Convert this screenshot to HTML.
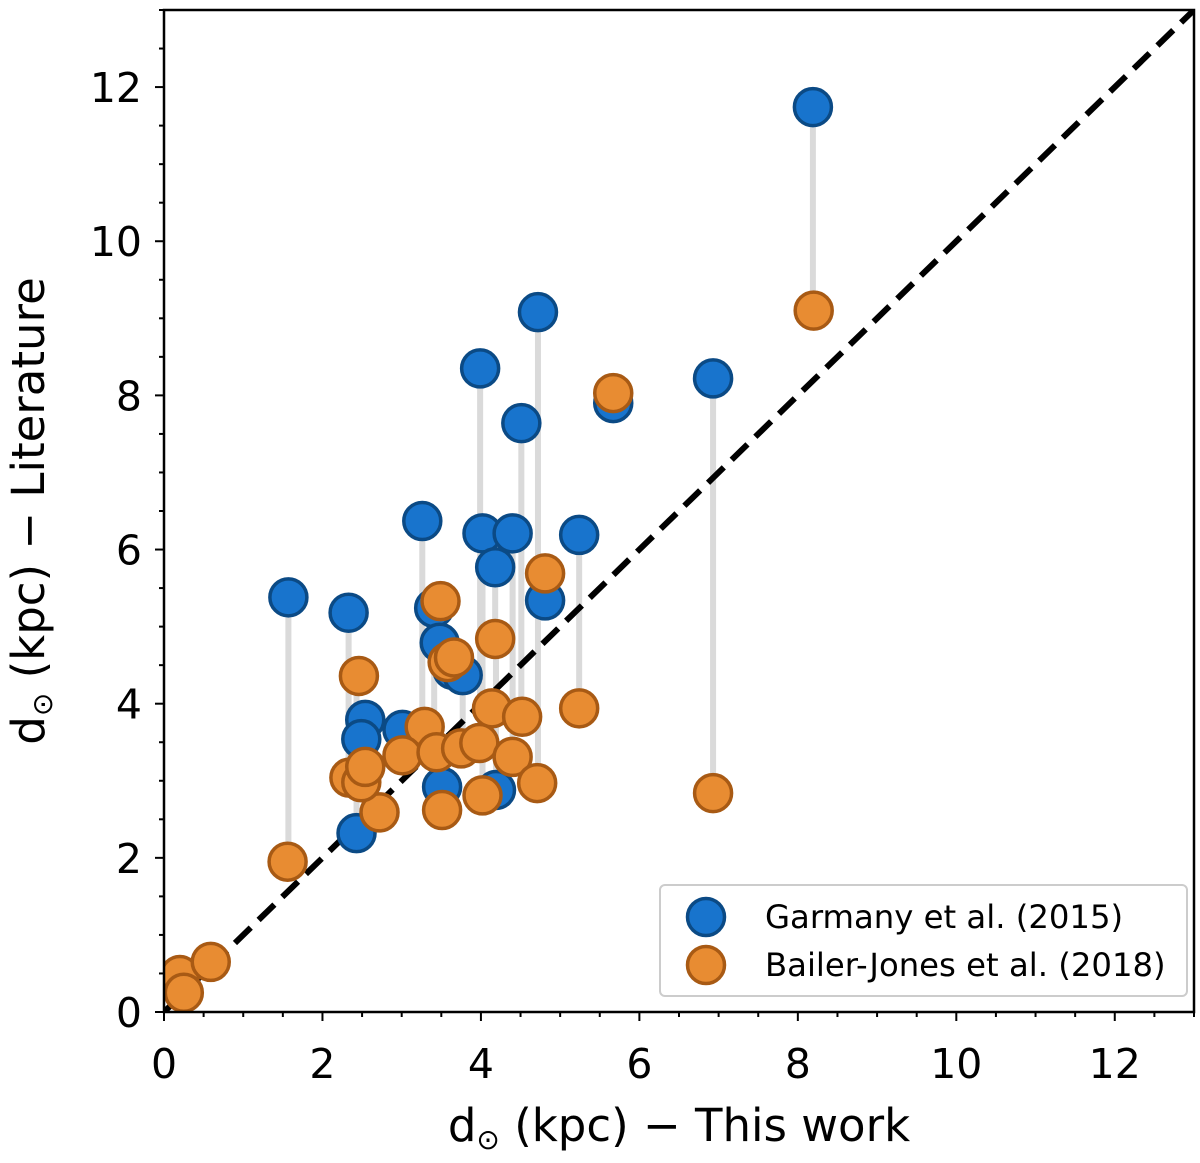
<!DOCTYPE html>
<html><head><meta charset="utf-8"><style>
body{margin:0;background:#fff;position:relative}
svg text{font-family:"DejaVu Sans","Liberation Sans",sans-serif;fill:#000}
</style></head><body>
<svg id="chart" width="1200" height="1158" viewBox="0 0 1200 1158" xmlns="http://www.w3.org/2000/svg"></svg>
<script>
const garmanyX=[1.57,2.33,3.26,3.99,4.72,4.51,5.67,6.93,8.19,4.02,4.40,4.18,5.24,4.81,3.41,3.48,3.64,3.77,2.54,2.49,3.01,2.43,3.51,4.19];
const garmanyY=[5.38,5.18,6.37,8.35,9.08,7.64,7.90,8.22,11.74,6.21,6.21,5.77,6.19,5.34,5.24,4.79,4.44,4.37,3.79,3.54,3.66,2.32,2.92,2.88];
const bailerX=[1.56,2.46,3.49,3.58,3.66,4.81,4.18,5.24,4.14,4.52,3.29,3.01,3.44,3.75,3.98,4.40,4.71,4.02,3.51,2.72,2.34,2.49,2.54,8.20,5.67,6.93,0.20,0.25,0.59];
const bailerY=[1.95,4.36,5.33,4.54,4.60,5.69,4.84,3.94,3.94,3.83,3.70,3.33,3.37,3.42,3.49,3.31,2.97,2.81,2.62,2.59,3.04,2.98,3.18,9.10,8.03,2.84,0.48,0.25,0.65];
const majorTicks=[0,2,4,6,8,10,12];
const tickLabels=["0","2","4","6","8","10","12"];

const L=164,T=10,R=1194,B=1012,MAXV=13;
const sx=v=>L+v*(R-L)/MAXV, sy=v=>B-v*(B-T)/MAXV;
const svg=document.getElementById('chart');
const NS="http://www.w3.org/2000/svg";
function mk(tag,attrs,parent){const e=document.createElementNS(NS,tag);for(const k in attrs)e.setAttribute(k,attrs[k]);(parent||svg).appendChild(e);return e;}

const defs=mk('defs',{});
const cp=mk('clipPath',{id:'clip'},defs);
mk('rect',{x:L,y:T,width:R-L,height:B-T},cp);
const plot=mk('g',{'clip-path':'url(#clip)'});



garmanyX.forEach((gx,i)=>{
  let best=-1,bd=0.2;
  bailerX.forEach((bx,j)=>{const d=Math.abs(bx-gx);if(d<bd){bd=d;best=j;}});
  if(best>=0){
    const ln=mk('line',{x1:sx(gx),x2:sx(gx),y1:sy(garmanyY[i]),y2:sy(bailerY[best]),stroke:'#dadada','stroke-width':6},plot);
    
    
  }
});
const diag=mk('line',{x1:sx(0),y1:sy(0),x2:sx(13),y2:sy(13),stroke:'#000','stroke-width':6,'stroke-dasharray':'22,11'},plot);



garmanyX.forEach((x,i)=>{
  const c=mk('circle',{cx:sx(x),cy:sy(garmanyY[i]),r:18.5,fill:'#1874cd',stroke:'#0b4a85','stroke-width':3.5},plot);
  
  
});
bailerX.forEach((x,i)=>{
  const c=mk('circle',{cx:sx(x),cy:sy(bailerY[i]),r:18.5,fill:'#e88c32',stroke:'#a85a14','stroke-width':3.5},plot);
  
  
});

const fr=mk('rect',{x:L,y:T,width:R-L,height:B-T,fill:'none',stroke:'#000','stroke-width':2.5});



for(let v=0;v<=13;v+=0.5){
  const major=Number.isInteger(v/2);
  const len=major?9:5;
  const tx=mk('line',{x1:sx(v),x2:sx(v),y1:B,y2:B+len,stroke:'#000','stroke-width':2});
  
  
  const ty=mk('line',{x1:L,x2:L-len,y1:sy(v),y2:sy(v),stroke:'#000','stroke-width':2});
  
  
}
majorTicks.forEach((v,i)=>{
  const xl=mk('text',{x:sx(v),y:B+66,'font-size':41,'text-anchor':'middle'});
  xl.textContent=tickLabels[i];
  
  
  const yl=mk('text',{x:L-22,y:sy(v)+15,'font-size':41,'text-anchor':'end'});
  yl.textContent=tickLabels[i];
  
  
});
</script>
<svg style="position:absolute;left:0;top:0" width="1200" height="1158">
<text x="679" y="1141" font-size="45" text-anchor="middle" style="font-family:'DejaVu Sans','Liberation Sans',sans-serif">d<tspan font-size="28" dy="8">⊙</tspan><tspan dy="-8"> (kpc) − This work</tspan></text>
<text transform="translate(44,511) rotate(-90)" x="0" y="0" font-size="45" text-anchor="middle" style="font-family:'DejaVu Sans','Liberation Sans',sans-serif">d<tspan font-size="28" dy="8">⊙</tspan><tspan dy="-8"> (kpc) − Literature</tspan></text>
<g style="font-family:'DejaVu Sans','Liberation Sans',sans-serif">
<rect x="660" y="885" width="527" height="111" rx="5" fill="#fff" fill-opacity="0.85" stroke="#ccc" stroke-width="2"/>
<circle cx="706" cy="917" r="18.5" fill="#1874cd" stroke="#0b4a85" stroke-width="3.5"/>
<text x="765" y="928" font-size="32.3">Garmany et al. (2015)</text>
<circle cx="706" cy="965" r="18.5" fill="#e88c32" stroke="#a85a14" stroke-width="3.5"/>
<text x="765" y="976" font-size="32.3">Bailer-Jones et al. (2018)</text>
</g>
</svg>
</body></html>
